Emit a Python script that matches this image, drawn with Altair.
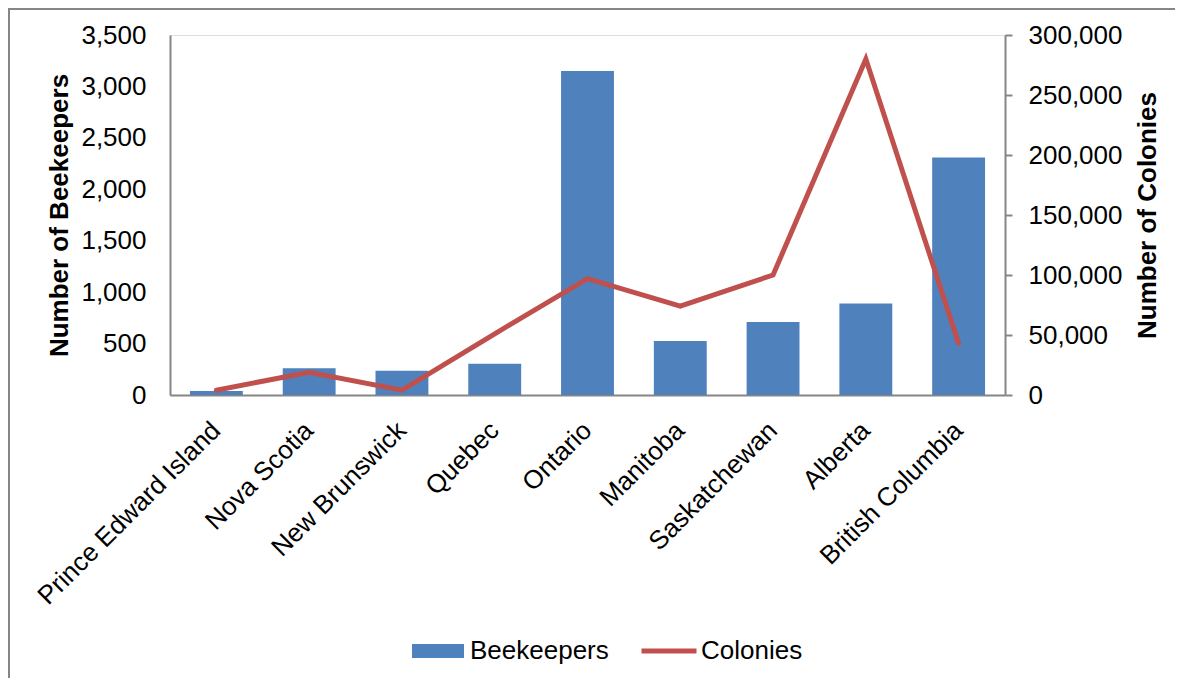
import altair as alt
import pandas as pd

provinces = ["Prince Edward Island", "Nova Scotia", "New Brunswick", "Quebec", "Ontario",
             "Manitoba", "Saskatchewan", "Alberta", "British Columbia"]
beekeepers = [40, 260, 235, 305, 3150, 525, 710, 890, 2310]
colonies = [4000, 19000, 4000, 51000, 97000, 74000, 100000, 280000, 43000]

df = pd.DataFrame({"Province": provinces, "Beekeepers": beekeepers, "Colonies": colonies})

FONT = "Liberation Sans"
GRAY = "#868686"
BLUE = "#4F81BD"
RED = "#C0504D"

x_enc = alt.X("Province:N", sort=None,
              scale=alt.Scale(paddingInner=0.43, paddingOuter=0.215),
              axis=alt.Axis(title=None, labelAngle=315, labelFontSize=26, labelFont=FONT,
                            labelColor="black", ticks=False, domainColor=GRAY, domainWidth=2,
                            labelPadding=31, labelAlign="right", labelBaseline="middle",
                            labelLimit=500))

frame = alt.Chart(alt.Data(values=[{}])).mark_rect(
    fill="transparent", stroke=GRAY, strokeWidth=2
).encode(x=alt.value(-161), x2=alt.value(1300), y=alt.value(-26), y2=alt.value(800))

bars = alt.Chart(df).mark_bar(color=BLUE).encode(
    x=x_enc,
    y=alt.Y("Beekeepers:Q", scale=alt.Scale(domain=[0, 3500]),
            axis=alt.Axis(title="Number of Beekeepers", values=list(range(0, 3501, 500)),
                          format=",.0f", grid=False, ticks=False, domainColor=GRAY, domainWidth=2,
                          labelFontSize=26, labelFont=FONT, labelColor="black", labelPadding=24,
                          titleFontSize=26, titleFont=FONT, titleFontWeight="bold",
                          titleColor="black", titlePadding=8)),
    color=alt.Color("s:N", scale=alt.Scale(domain=["Beekeepers"], range=[BLUE]),
                    legend=alt.Legend(title=None, orient="none", legendX=242, legendY=590,
                                      symbolType="M-1,-0.27H1V0.27H-1Z", symbolSize=2704,
                                      labelFontSize=26, labelFont=FONT, labelColor="black",
                                      labelOffset=6, symbolStrokeWidth=0)),
).transform_calculate(s="'Beekeepers'")

line = alt.Chart(df).mark_line(color=RED, strokeWidth=5, strokeCap="round").encode(
    x=x_enc,
    y=alt.Y("Colonies:Q", scale=alt.Scale(domain=[0, 300000]),
            axis=alt.Axis(orient="right", title="Number of Colonies",
                          values=list(range(0, 300001, 50000)), format=",.0f", grid=False,
                          ticks=True, tickSize=7, tickColor=GRAY, tickWidth=2,
                          domainColor=GRAY, domainWidth=2,
                          labelFontSize=26, labelFont=FONT, labelColor="black", labelPadding=16,
                          titleFontSize=26, titleFont=FONT, titleFontWeight="bold",
                          titleColor="black", titlePadding=13, titleAngle=270,
                          titleBaseline="top")),
    color=alt.Color("s:N", scale=alt.Scale(domain=["Colonies"], range=[RED]),
                    legend=alt.Legend(title=None, orient="none", legendX=469, legendY=586,
                                      symbolType="M-1,0H1", symbolSize=3025,
                                      symbolStrokeWidth=5, labelFontSize=26, labelFont=FONT,
                                      labelColor="black", labelOffset=2)),
).transform_calculate(s="'Colonies'")

chart = alt.layer(frame, bars, line).resolve_scale(y="independent", color="independent").properties(
    width=835, height=360,
    autosize=alt.AutoSizeParams(type="none"),
    padding={"left": 162, "top": 27, "right": 170, "bottom": 283},
).configure_view(strokeWidth=0).configure(background="white")

chart.save("out.html", embed_options={"renderer": "svg", "actions": False})
